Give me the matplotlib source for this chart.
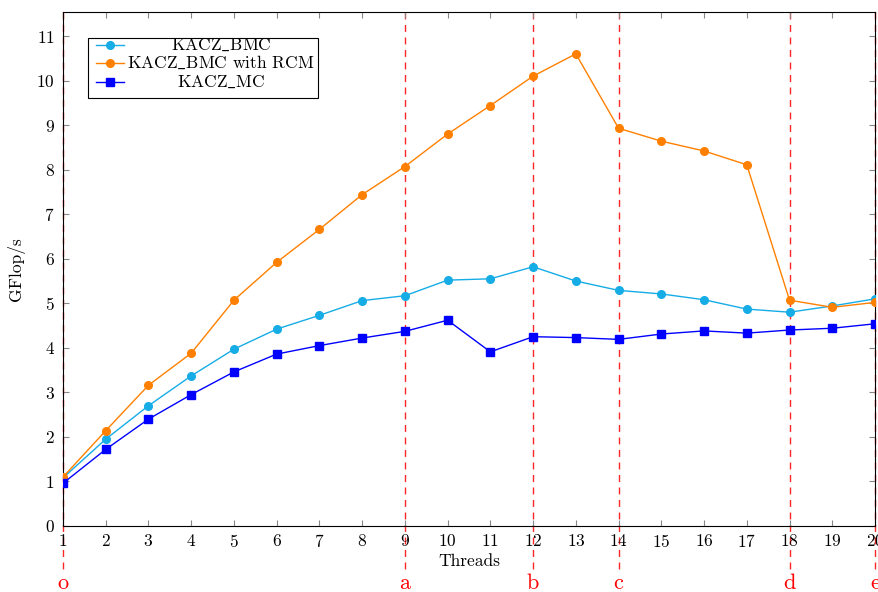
import numpy as np
import matplotlib
matplotlib.use("Agg")
import matplotlib.pyplot as plt
import matplotlib.transforms as mtransforms
from matplotlib.patches import Rectangle

plt.rcParams['font.family'] = ['cmr10', 'DejaVu Serif']
plt.rcParams['axes.formatter.use_mathtext'] = True
plt.rcParams['mathtext.fontset'] = 'cm'

#------------------------------------------------------------------
FONTSIZE = 12.5
threads = list(range(1, 21))
kacz_bmc = [1.08, 1.95, 2.70, 3.37, 3.97, 4.42, 4.73, 5.06, 5.17, 5.52,
            5.55, 5.82, 5.50, 5.29, 5.21, 5.08, 4.87, 4.80, 4.94, 5.10]
kacz_bmc_rcm = [1.10, 2.14, 3.16, 3.88, 5.07, 5.92, 6.66, 7.44, 8.07, 8.80,
                9.44, 10.10, 10.60, 8.93, 8.64, 8.42, 8.11, 5.07, 4.91, 5.02]
kacz_mc = [0.96, 1.72, 2.40, 2.95, 3.46, 3.86, 4.05, 4.22, 4.37, 4.62,
           3.91, 4.25, 4.23, 4.19, 4.31, 4.38, 4.33, 4.40, 4.44, 4.54]
mark_x = [1, 9, 12, 14, 18, 20]
mark_labels = ["o", "a", "b", "c", "d", "e"]
series_labels = [r"KACZ$\_$BMC", r"KACZ$\_$BMC with RCM", r"KACZ$\_$MC"]
#------------------------------------------------------------------

fig = plt.figure(figsize=(8.79, 5.92), dpi=100)
ax = fig.add_axes([63/879, 66/592, 812/879, 514/592])

styles = [('o', '#16ace6'), ('o', '#ff8000'), ('s', '#0000ff')]
for ys, (m, c) in zip([kacz_bmc, kacz_bmc_rcm, kacz_mc], styles):
    ax.plot(threads, ys, '-', marker=m, color=c, lw=1, ms=5.5, zorder=3)

trans = mtransforms.blended_transform_factory(ax.transData, ax.transAxes)
for x, lab in zip(mark_x, mark_labels):
    ax.plot([x, x], [1, -0.09], ls=(0, (5, 4)), color='red', lw=1, alpha=0.85,
            transform=trans, clip_on=False, zorder=1)
    ax.text(x, -0.112, lab, color='red', fontsize=16, ha='center', va='center',
            transform=trans)

# legend box, pgfplots style with centered entries
ax.add_patch(Rectangle((0.0308, 0.833), 0.283, 0.116, transform=ax.transAxes,
                       facecolor='white', edgecolor='black', lw=0.8, zorder=5))
rows = [0.936, 0.901, 0.864]
for yy, lab, (m, c) in zip(rows, series_labels, styles):
    ax.plot([0.041, 0.075], [yy, yy], '-', color=c, lw=1, transform=ax.transAxes,
            zorder=6, clip_on=False)
    ax.plot([0.058], [yy], marker=m, color=c, ms=5.5, transform=ax.transAxes,
            zorder=6, clip_on=False)
    ax.text(0.1946, yy - 0.0095, lab, fontsize=FONTSIZE, ha='center', va='baseline',
            transform=ax.transAxes, zorder=7)

ax.set_xlim(1, 20)
ax.set_ylim(0, 11.54)
ax.set_xticks(threads)
ax.set_yticks(range(0, 12))
ax.tick_params(direction='in', top=True, right=True, labelsize=FONTSIZE,
               length=4, color='#888888')
ax.tick_params(axis='y', pad=6)
ax.tick_params(axis='x', pad=5)
ax.set_xlabel("Threads", fontsize=FONTSIZE, labelpad=3)
ax.set_ylabel("GFlop/s", fontsize=FONTSIZE, labelpad=8)

plt.savefig("out.png", dpi=100)
